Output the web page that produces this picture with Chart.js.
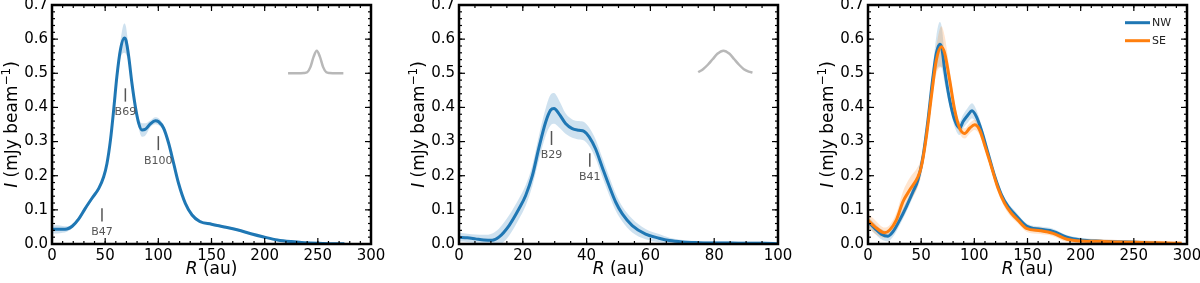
<!DOCTYPE html>
<html>
<head>
<meta charset="utf-8">
<title>Radial profiles</title>
<script src="https://cdn.jsdelivr.net/npm/chart.js@4.4.1/dist/chart.umd.min.js"></script>
<style>
  body { margin: 0; background: #fff; }
  #wrap { position: relative; width: 1200px; height: 283px; }
  canvas { position: absolute; top: 0; }
</style>
</head>
<body>
<div id="wrap">
  <canvas id="c1" width="400" height="283" style="left:0px"></canvas>
  <canvas id="c2" width="400" height="283" style="left:400px"></canvas>
  <canvas id="c3" width="400" height="283" style="left:800px"></canvas>
</div>
<script>
var FONT = '"DejaVu Sans", sans-serif';
var BLUE = '#1f77b4', ORANGE = '#ff7f0e';

// left panel: R (au), I (mJy/beam), band half width
var r1 = [0, 5, 10, 14, 19, 25, 31, 37.6, 44, 48.6, 51.7, 55, 58, 61, 64.3, 68, 69.6, 72.1, 75.2, 78.4, 81.5, 84.6, 87.8, 92.5, 97.2, 100.3, 105, 109.7, 114.4, 119, 125.4, 131.7, 139, 150, 162, 175, 187, 200, 212, 225, 237, 250, 262, 275];
var i1 = [0.043, 0.043, 0.043, 0.044, 0.052, 0.073, 0.103, 0.134, 0.163, 0.197, 0.236, 0.305, 0.393, 0.49, 0.568, 0.603, 0.596, 0.55, 0.47, 0.402, 0.354, 0.334, 0.336, 0.352, 0.361, 0.358, 0.339, 0.295, 0.236, 0.178, 0.119, 0.085, 0.066, 0.058, 0.05, 0.041, 0.03, 0.02, 0.012, 0.007, 0.004, 0.002, 0.001, 0.001];
var e1 = [0.012, 0.012, 0.01, 0.008, 0.006, 0.006, 0.006, 0.006, 0.007, 0.008, 0.008, 0.008, 0.01, 0.012, 0.025, 0.043, 0.04, 0.02, 0.012, 0.012, 0.015, 0.02, 0.018, 0.01, 0.01, 0.01, 0.008, 0.006, 0.006, 0.006, 0.006, 0.005, 0.005, 0.004, 0.004, 0.004, 0.003, 0.003, 0.003, 0.003, 0.003, 0.003, 0.003, 0.003];
var beamR1 = [222, 232, 237, 240, 243, 246, 249, 252, 255, 258, 261, 266, 274];
var beamI1 = [0.5, 0.5, 0.501, 0.503, 0.518, 0.548, 0.566, 0.548, 0.518, 0.503, 0.501, 0.5, 0.5];
var ringNames1 = ['B47', 'B69', 'B100'];
var ringR1 = [47, 69, 100];
var ringHi1 = [0.105, 0.456, 0.316];
var ringLo1 = [0.066, 0.417, 0.275];

// middle panel
var r2 = [0, 2.6, 5.2, 7.8, 10.4, 12.5, 15.7, 18.8, 20.9, 23, 25, 27.2, 28.7, 29.8, 31.3, 33.4, 35.5, 37.6, 39.2, 40.8, 42.8, 44.9, 47, 49.1, 51.2, 54.3, 58.5, 62.7, 66, 70, 75, 80, 85, 90, 95, 100];
var i2 = [0.02, 0.018, 0.015, 0.012, 0.011, 0.02, 0.054, 0.103, 0.142, 0.2, 0.28, 0.358, 0.392, 0.397, 0.382, 0.353, 0.338, 0.333, 0.33, 0.314, 0.279, 0.225, 0.172, 0.123, 0.088, 0.054, 0.029, 0.017, 0.01, 0.006, 0.004, 0.003, 0.003, 0.002, 0.002, 0.001];
var e2 = [0.013, 0.012, 0.013, 0.015, 0.02, 0.025, 0.03, 0.03, 0.03, 0.03, 0.035, 0.04, 0.045, 0.045, 0.04, 0.03, 0.027, 0.027, 0.027, 0.027, 0.028, 0.028, 0.027, 0.025, 0.022, 0.02, 0.015, 0.012, 0.008, 0.006, 0.005, 0.005, 0.005, 0.005, 0.005, 0.005];
var beamR2 = [75, 76.5, 78, 79.5, 81, 82.9, 84.8, 86.3, 87.8, 89.3, 90.8, 92];
var beamI2 = [0.503, 0.512, 0.525, 0.541, 0.557, 0.566, 0.557, 0.541, 0.525, 0.512, 0.505, 0.502];
var ringNames2 = ['B29', 'B41'];
var ringR2 = [29, 41];
var ringHi2 = [0.331, 0.266];
var ringLo2 = [0.29, 0.226];

// right panel, NW and SE sides
var seriesNames3 = ['NW', 'SE'];
var r3a = [0, 6.3, 12.5, 18.8, 23.5, 29.8, 36, 42.3, 47, 51.7, 56.4, 61.1, 64.3, 67.5, 69.5, 72.1, 76.8, 81.5, 86.2, 89.3, 94, 97.8, 101.9, 106.6, 112.9, 119, 125.4, 131.7, 137.9, 149, 162, 174, 187, 200, 218, 235, 250, 265, 278];
var i3a = [0.065, 0.046, 0.029, 0.023, 0.036, 0.07, 0.109, 0.153, 0.188, 0.256, 0.363, 0.49, 0.559, 0.585, 0.573, 0.51, 0.422, 0.363, 0.339, 0.358, 0.378, 0.39, 0.373, 0.334, 0.266, 0.2, 0.145, 0.11, 0.088, 0.053, 0.043, 0.037, 0.02, 0.012, 0.008, 0.006, 0.005, 0.003, 0.001];
var e3a = [0.015, 0.015, 0.015, 0.015, 0.015, 0.015, 0.015, 0.015, 0.015, 0.015, 0.02, 0.03, 0.05, 0.065, 0.06, 0.04, 0.02, 0.02, 0.02, 0.02, 0.022, 0.022, 0.02, 0.015, 0.01, 0.01, 0.01, 0.01, 0.01, 0.008, 0.008, 0.008, 0.006, 0.006, 0.006, 0.006, 0.006, 0.006, 0.006];
var r3b = [0, 6.3, 15.7, 20.4, 26.6, 32.9, 39.2, 47, 50.2, 54.9, 59.6, 64.3, 69, 72.1, 76.8, 81.5, 86.2, 90.9, 95.6, 100.3, 105, 109.7, 116, 122.3, 128.5, 134.8, 141, 149, 162, 174, 187, 200, 218, 235, 250, 265, 280, 295];
var i3b = [0.07, 0.051, 0.033, 0.041, 0.07, 0.124, 0.158, 0.197, 0.227, 0.315, 0.432, 0.539, 0.578, 0.559, 0.48, 0.393, 0.339, 0.324, 0.339, 0.349, 0.334, 0.29, 0.227, 0.163, 0.119, 0.09, 0.07, 0.046, 0.039, 0.031, 0.014, 0.009, 0.008, 0.006, 0.005, 0.004, 0.003, 0.002];
var e3b = [0.02, 0.02, 0.015, 0.015, 0.02, 0.03, 0.035, 0.03, 0.025, 0.02, 0.025, 0.04, 0.06, 0.05, 0.03, 0.02, 0.015, 0.015, 0.015, 0.015, 0.015, 0.012, 0.012, 0.012, 0.012, 0.012, 0.01, 0.01, 0.01, 0.008, 0.008, 0.006, 0.006, 0.006, 0.006, 0.006, 0.006, 0.006];

// axes
var xTicks1 = [0, 50, 100, 150, 200, 250, 300];
var xTicks2 = [0, 20, 40, 60, 80, 100];
var yTicks = [0, 0.1, 0.2, 0.3, 0.4, 0.5, 0.6, 0.7];

function pts(xs, ys) {
    return xs.map(function (x, k) { return { x: x, y: ys[k] }; });
}
function shift(ys, es, s) {
    return ys.map(function (v, k) { return v + s * es[k]; });
}
function lineSet(label, xs, ys, color, w, order) {
    return { label: label, data: pts(xs, ys), borderColor: color, borderWidth: w, pointRadius: 0,
             fill: false, cubicInterpolationMode: 'monotone', order: order };
}
function bandSets(xs, ys, es, color, order) {
    return [
        { data: pts(xs, shift(ys, es, -1)), borderColor: 'rgba(0,0,0,0)', borderWidth: 1, pointRadius: 0,
          fill: false, cubicInterpolationMode: 'monotone', order: order },
        { data: pts(xs, shift(ys, es, 1)), borderColor: 'rgba(0,0,0,0)', borderWidth: 1, pointRadius: 0,
          fill: '-1', backgroundColor: color, cubicInterpolationMode: 'monotone', order: order }
    ];
}

var panelInfo = {
    c1: { xTicks: xTicks1, xMinor: 10, rings: [ringNames1, ringR1, ringHi1, ringLo1] },
    c2: { xTicks: xTicks2, xMinor: 5, rings: [ringNames2, ringR2, ringHi2, ringLo2] },
    c3: { xTicks: xTicks1, xMinor: 10, legend: [seriesNames3, [BLUE, ORANGE]] }
};

var frame = {
    id: 'frame',
    afterDraw: function (chart) {
        var p = panelInfo[chart.canvas.id];
        var ctx = chart.ctx, a = chart.chartArea, x = chart.scales.x, y = chart.scales.y;
        function seg(x0, y0, x1, y1) { ctx.beginPath(); ctx.moveTo(x0, y0); ctx.lineTo(x1, y1); ctx.stroke(); }
        ctx.save();

        // ring markers
        if (p.rings) {
            ctx.strokeStyle = '#555'; ctx.fillStyle = '#555'; ctx.lineWidth = 1.5;
            ctx.font = '11px ' + FONT; ctx.textAlign = 'center'; ctx.textBaseline = 'alphabetic';
            p.rings[0].forEach(function (name, k) {
                var px = x.getPixelForValue(p.rings[1][k]);
                var lo = y.getPixelForValue(p.rings[3][k]);
                seg(px, y.getPixelForValue(p.rings[2][k]), px, lo);
                ctx.fillText(name, px, lo + 13.5);
            });
        }

        // legend
        if (p.legend) {
            ctx.lineWidth = 3; ctx.font = '11px ' + FONT;
            ctx.textAlign = 'left'; ctx.textBaseline = 'middle'; ctx.fillStyle = '#222';
            p.legend[0].forEach(function (name, k) {
                var ly = a.top + 17.7 + 18 * k;
                ctx.strokeStyle = p.legend[1][k];
                seg(a.right - 62, ly, a.right - 37, ly);
                ctx.fillText(name, a.right - 35, ly + 0.5);
            });
        }

        // ticks, inward on all sides
        ctx.strokeStyle = '#000'; ctx.lineWidth = 1.2;
        var n = Math.round(x.max / p.xMinor);
        for (var k = 0; k <= n; k++) {
            var px = x.getPixelForValue(k * p.xMinor);
            seg(px, a.bottom, px, a.bottom - 3); seg(px, a.top, px, a.top + 3);
        }
        p.xTicks.forEach(function (v) {
            var px = x.getPixelForValue(v);
            seg(px, a.bottom, px, a.bottom - 6); seg(px, a.top, px, a.top + 6);
        });
        for (k = 0; k <= 35; k++) {
            var py = y.getPixelForValue(k * 0.02);
            seg(a.left, py, a.left + 3, py); seg(a.right, py, a.right - 3, py);
        }
        yTicks.forEach(function (v) {
            var py = y.getPixelForValue(v);
            seg(a.left, py, a.left + 6, py); seg(a.right, py, a.right - 6, py);
        });
        ctx.lineWidth = 2.5;
        ctx.strokeRect(a.left, a.top, a.right - a.left, a.bottom - a.top);

        // tick labels
        ctx.fillStyle = '#000'; ctx.font = '15px ' + FONT;
        ctx.textAlign = 'center'; ctx.textBaseline = 'alphabetic';
        p.xTicks.forEach(function (v) { ctx.fillText(String(v), x.getPixelForValue(v), a.bottom + 16); });
        ctx.textAlign = 'right'; ctx.textBaseline = 'middle';
        yTicks.forEach(function (v) { ctx.fillText(v.toFixed(1), a.left - 4, y.getPixelForValue(v)); });

        // x title: R (au)
        ctx.textBaseline = 'alphabetic'; ctx.textAlign = 'left';
        ctx.font = 'italic 17px ' + FONT; var wR = ctx.measureText('R').width;
        ctx.font = '17px ' + FONT; var wA = ctx.measureText(' (au)').width;
        var sx = (a.left + a.right) / 2 - (wR + wA) / 2;
        ctx.font = 'italic 17px ' + FONT; ctx.fillText('R', sx, 274);
        ctx.font = '17px ' + FONT; ctx.fillText(' (au)', sx + wR, 274);

        // y title: I (mJy beam^-1)
        ctx.font = 'italic 17px ' + FONT; var w1 = ctx.measureText('I').width;
        ctx.font = '17px ' + FONT; var w2 = ctx.measureText(' (mJy beam').width;
        ctx.font = '12px ' + FONT; var w3 = ctx.measureText('\u22121').width;
        ctx.font = '17px ' + FONT; var w4 = ctx.measureText(')').width;
        var tot = w1 + w2 + w3 + w4;
        ctx.translate(a.left - 41.5, (a.top + a.bottom) / 2);
        ctx.rotate(-Math.PI / 2);
        var tx = -tot / 2;
        ctx.font = 'italic 17px ' + FONT; ctx.fillText('I', tx, 6); tx += w1;
        ctx.font = '17px ' + FONT; ctx.fillText(' (mJy beam', tx, 6); tx += w2;
        ctx.font = '12px ' + FONT; ctx.fillText('\u22121', tx, -1); tx += w3;
        ctx.font = '17px ' + FONT; ctx.fillText(')', tx, 6);
        ctx.restore();
    }
};

function makePanel(id, datasets, xmax, left, right) {
    return new Chart(document.getElementById(id), {
        type: 'line',
        data: { datasets: datasets },
        options: {
            responsive: false,
            animation: false,
            devicePixelRatio: 1,
            events: [],
            layout: { padding: { left: left, right: 400 - right, top: 5, bottom: 39 } },
            scales: {
                x: { type: 'linear', min: 0, max: xmax, display: false },
                y: { type: 'linear', min: 0, max: 0.7, display: false }
            },
            plugins: { legend: { display: false }, tooltip: { enabled: false } }
        },
        plugins: [frame]
    });
}

makePanel('c1', bandSets(r1, i1, e1, 'rgba(31,119,180,0.22)', 3).concat([
    lineSet('beam', beamR1, beamI1, '#b8b8b8', 2.5, 2),
    lineSet('profile', r1, i1, BLUE, 3, 1)
]), 300, 52, 371);

makePanel('c2', bandSets(r2, i2, e2, 'rgba(31,119,180,0.22)', 3).concat([
    lineSet('beam', beamR2, beamI2, '#b8b8b8', 2.5, 2),
    lineSet('profile', r2, i2, BLUE, 3, 1)
]), 100, 59, 378);

makePanel('c3', bandSets(r3a, i3a, e3a, 'rgba(31,119,180,0.2)', 4)
    .concat(bandSets(r3b, i3b, e3b, 'rgba(255,127,14,0.2)', 3))
    .concat([
        lineSet(seriesNames3[0], r3a, i3a, BLUE, 3, 2),
        lineSet(seriesNames3[1], r3b, i3b, ORANGE, 3, 1)
    ]), 300, 68, 387);
</script>
</body>
</html>
